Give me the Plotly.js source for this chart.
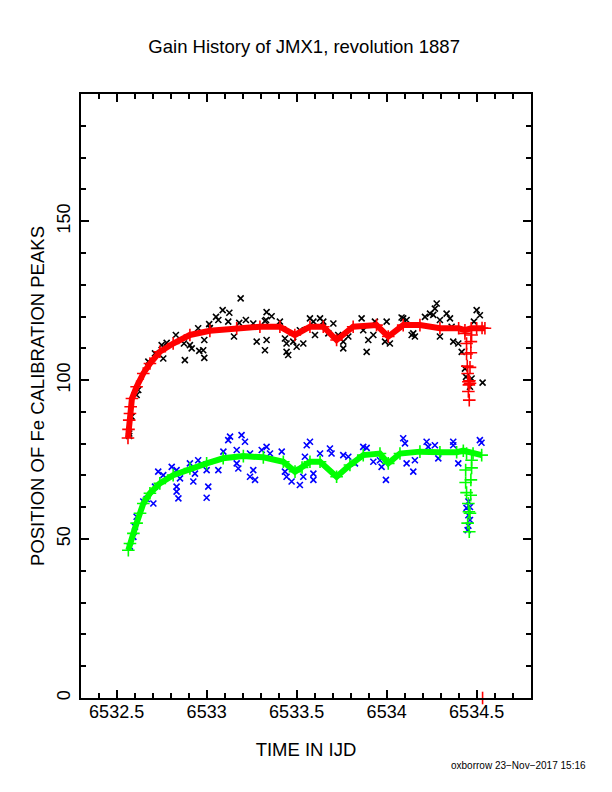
<!DOCTYPE html>
<html>
<head>
<meta charset="utf-8">
<script src="https://cdn.plot.ly/plotly-3.0.1.min.js"></script>
<style>
  html, body { margin: 0; padding: 0; background: #fff; }
  #chart { width: 612px; height: 792px; }
</style>
</head>
<body>
<div id="chart"></div>
<script>
// measured Fe peak positions (black = high peak, blue = low peak)
const highPeakX = [6532.570, 6532.570, 6532.583, 6532.611, 6532.620, 6532.676, 6532.713, 6532.759, 6532.750, 6532.778,
    6532.829, 6532.879, 6532.874, 6532.907, 6532.917, 6532.953, 6532.959, 6532.981, 6532.987, 6532.987,
    6533.014, 6533.018, 6533.052, 6533.065, 6533.089, 6533.126, 6533.120, 6533.152, 6533.181, 6533.189,
    6533.218, 6533.259, 6533.278, 6533.324, 6533.333, 6533.330, 6533.333, 6533.361, 6533.324, 6533.407,
    6533.435, 6533.444, 6533.444, 6533.453, 6533.481, 6533.500, 6533.518, 6533.537, 6533.574, 6533.593,
    6533.602, 6533.630, 6533.648, 6533.676, 6533.704, 6533.731, 6533.759, 6533.759, 6533.787, 6533.861,
    6533.870, 6533.889, 6533.898, 6533.926, 6533.935, 6534.000, 6533.991, 6534.018, 6534.083, 6534.111,
    6534.139, 6534.157, 6534.092, 6534.148, 6534.213, 6534.241, 6534.259, 6534.278, 6534.268, 6534.296,
    6534.296, 6534.333, 6534.352, 6534.370, 6534.398, 6534.417, 6534.435, 6534.441, 6534.472, 6534.463,
    6534.533, 6534.500, 6534.518, 6534.485, 6534.361];
const highPeakY = [83.2, 82.4, 88.5, 95.3, 96.9, 105.8, 108.4, 106.8, 111.0, 111.7,
    114.2, 106.3, 111.5, 111.0, 110.0, 116.3, 109.2, 109.4, 107.0, 112.6,
    117.6, 116.4, 119.9, 118.9, 122.0, 121.2, 118.4, 113.7, 118.0, 125.7,
    118.9, 117.8, 112.1, 109.4, 112.6, 118.9, 121.4, 120.1, 118.6, 118.4,
    113.1, 111.5, 108.9, 107.9, 112.1, 110.5, 115.7, 111.5, 119.4, 118.4,
    114.2, 119.4, 118.4, 114.7, 117.8, 114.2, 112.1, 110.0, 113.7, 119.4,
    115.7, 108.9, 112.6, 114.2, 118.4, 118.4, 112.1, 111.5, 119.7, 118.9,
    114.2, 113.7, 119.4, 114.7, 119.9, 120.9, 120.5, 124.1, 122.5, 118.9,
    113.7, 120.9, 119.4, 112.1, 111.5, 108.9, 103.6, 101.0, 100.5, 97.9,
    99.2, 122.0, 120.4, 118.4, 116.8];

const lowPeakX = [6532.574, 6532.593, 6532.602, 6532.611, 6532.648, 6532.667, 6532.704, 6532.713, 6532.731, 6532.759,
    6532.806, 6532.833, 6532.852, 6532.833, 6532.833, 6532.843, 6532.907, 6532.935, 6532.926, 6532.953,
    6532.972, 6533.000, 6533.009, 6533.000, 6533.065, 6533.093, 6533.120, 6533.130, 6533.167, 6533.167,
    6533.176, 6533.194, 6533.213, 6533.241, 6533.241, 6533.259, 6533.269, 6533.306, 6533.333, 6533.352,
    6533.417, 6533.435, 6533.444, 6533.472, 6533.518, 6533.537, 6533.546, 6533.556, 6533.574, 6533.593,
    6533.593, 6533.630, 6533.685, 6533.694, 6533.759, 6533.787, 6533.824, 6533.870, 6533.889, 6533.926,
    6533.963, 6533.972, 6533.996, 6534.092, 6534.102, 6534.111, 6534.148, 6534.157, 6534.222, 6534.231,
    6534.268, 6534.287, 6534.370, 6534.370, 6534.398, 6534.518, 6534.527, 6534.454, 6534.463, 6534.444,
    6534.454, 6534.463, 6534.454, 6534.450];
const lowPeakY = [47.6, 50.7, 53.9, 57.0, 61.8, 62.6, 61.2, 66.5, 71.2, 70.1,
    72.7, 71.7, 69.1, 66.5, 64.9, 62.8, 73.8, 70.6, 68.1, 74.8,
    73.5, 71.7, 66.5, 63.0, 71.7, 77.5, 81.1, 82.2, 78.0, 73.8,
    72.2, 82.7, 80.6, 76.9, 69.6, 71.7, 68.6, 78.0, 79.0, 76.9,
    77.5, 71.2, 69.6, 68.1, 67.0, 69.6, 75.9, 79.5, 80.6, 70.6,
    68.6, 76.9, 78.5, 76.9, 76.4, 75.9, 73.8, 79.0, 78.7, 74.3,
    74.8, 72.7, 68.6, 81.7, 80.1, 73.8, 71.2, 74.8, 80.6, 79.0,
    79.5, 75.4, 80.6, 79.5, 73.8, 81.1, 80.3, 61.8, 60.1, 59.8,
    57.5, 56.0, 54.2, 52.8];

// fitted gain curves
const highFitX = [6532.563, 6532.566, 6532.570, 6532.574, 6532.578, 6532.585, 6532.611, 6532.648, 6532.685, 6532.740,
    6532.814, 6532.907, 6533.018, 6533.167, 6533.296, 6533.407, 6533.490, 6533.574, 6533.648, 6533.722,
    6533.814, 6533.944, 6534.009, 6534.092, 6534.185, 6534.296, 6534.400, 6534.435, 6534.470, 6534.500,
    6534.530, 6534.546];
const highFitY = [81.8, 84.5, 87.4, 89.5, 91.6, 94.2, 97.9, 102.1, 105.2, 108.9,
    111.5, 114.2, 115.5, 116.3, 116.8, 116.8, 114.2, 116.8, 116.8, 112.6,
    116.8, 117.3, 113.7, 117.3, 117.3, 116.3, 116.3, 115.7, 116.3, 116.3,
    116.4, 116.3];
const highTailX = [6534.435, 6534.472, 6534.444, 6534.468, 6534.444, 6534.468, 6534.448, 6534.463, 6534.450, 6534.454,
    6534.463, 6534.457, 6534.460, 6534.454, 6534.459];
const highTailY = [114.7, 114.2, 111.5, 112.1, 108.2, 108.6, 104.4, 104.0, 102.1, 99.5,
    99.0, 98.5, 99.8, 96.4, 93.7];
// stray fit point sitting on the x axis
const highStrayX = [6534.533];
const highStrayY = [0];

const lowFitX = [6532.565, 6532.574, 6532.593, 6532.611, 6532.630, 6532.648, 6532.685, 6532.740, 6532.814, 6532.907,
    6533.000, 6533.092, 6533.204, 6533.315, 6533.426, 6533.491, 6533.530, 6533.574, 6533.630, 6533.722,
    6533.796, 6533.870, 6533.963, 6534.009, 6534.074, 6534.185, 6534.296, 6534.389, 6534.426, 6534.480,
    6534.528];
const lowFitY = [46.5, 48.6, 51.8, 55.0, 58.1, 61.2, 64.4, 67.5, 70.1, 72.2,
    73.8, 75.4, 76.1, 75.7, 74.3, 71.2, 72.5, 74.3, 74.3, 69.6,
    73.3, 76.4, 76.9, 73.8, 76.9, 77.5, 77.3, 77.3, 77.8, 76.9,
    76.4];
const lowTailX = [6534.444, 6534.472, 6534.439, 6534.472, 6534.439, 6534.468, 6534.444, 6534.467, 6534.454, 6534.457,
    6534.463, 6534.450, 6534.459];
const lowTailY = [76.9, 74.8, 71.7, 72.4, 67.8, 68.6, 64.6, 63.8, 61.2, 58.6,
    58.1, 55.0, 52.3];

const FONT = 'Liberation Sans, Arial, Helvetica, sans-serif';

function pointTrace(x, y, color) {
    return {
        x: x, y: y,
        type: 'scatter',
        mode: 'markers',
        marker: { symbol: 'x-thin', size: 6, line: { color: color, width: 1.6 } },
        hoverinfo: 'x+y',
        showlegend: false
    };
}

function fitTrace(x, y, color) {
    return {
        x: x, y: y,
        type: 'scatter',
        mode: 'lines+markers',
        line: { color: color, width: 6 },
        marker: { symbol: 'cross-thin', size: 9, line: { color: color, width: 1.6 } },
        hoverinfo: 'x+y',
        showlegend: false
    };
}

function tailTrace(x, y, color, symbol) {
    return {
        x: x, y: y,
        type: 'scatter',
        mode: 'markers',
        cliponaxis: false,
        marker: { symbol: symbol || 'cross-thin', size: 9, line: { color: color, width: 1.6 } },
        hoverinfo: 'x+y',
        showlegend: false
    };
}

const traces = [
    pointTrace(highPeakX, highPeakY, '#000000'),
    pointTrace(lowPeakX, lowPeakY, '#0000ff'),
    fitTrace(highFitX, highFitY, '#ff0000'),
    tailTrace(highTailX, highTailY, '#ff0000'),
    tailTrace(highStrayX, highStrayY, '#ff0000', 'line-ns'),
    fitTrace(lowFitX, lowFitY, '#00ff00'),
    tailTrace(lowTailX, lowTailY, '#00ff00')
];

const axisCommon = {
    showline: true,
    linecolor: '#000',
    linewidth: 2,
    mirror: 'ticks',
    ticks: 'inside',
    ticklen: 8,
    tickwidth: 2,
    tickcolor: '#000',
    showgrid: false,
    zeroline: false,
    fixedrange: true,
    layer: 'above traces',
    tickfont: { family: FONT, size: 18, color: '#000' }
};

const layout = {
    width: 612,
    height: 792,
    margin: { l: 81, r: 81, t: 94, b: 94 },
    paper_bgcolor: '#fff',
    plot_bgcolor: '#fff',
    title: {
        text: 'Gain History of JMX1, revolution 1887',
        font: { family: FONT, size: 18.5, color: '#000' },
        x: 0.497, xanchor: 'center',
        y: 0.941, yanchor: 'middle'
    },
    xaxis: Object.assign({}, axisCommon, {
        range: [6532.302, 6534.802],
        tickmode: 'array',
        tickvals: [6532.5, 6533, 6533.5, 6534, 6534.5],
        ticktext: ['6532.5', '6533', '6533.5', '6534', '6534.5'],
        ticklabelstandoff: -4,
        minor: { dtick: 0.1, tick0: 6532.5, ticks: 'inside', ticklen: 5, tickwidth: 2, tickcolor: '#000' },
        title: { text: 'TIME IN IJD', font: { family: FONT, size: 18.5, color: '#000' }, standoff: 22 }
    }),
    yaxis: Object.assign({}, axisCommon, {
        range: [0, 190],
        tickmode: 'array',
        tickvals: [0, 50, 100, 150],
        ticktext: ['0', '50', '100', '150'],
        tickangle: -90,
        ticklabelstandoff: 2,
        minor: { dtick: 10, tick0: 0, ticks: 'inside', ticklen: 5, tickwidth: 2, tickcolor: '#000' },
        title: { text: 'POSITION OF Fe CALIBRATION PEAKS', font: { family: FONT, size: 18.5, color: '#000' }, standoff: 4 }
    }),
    annotations: [{
        text: 'oxborrow 23\u2212Nov\u22122017 15:16',
        xref: 'paper', yref: 'paper',
        x: 1.127, y: -0.111,
        xanchor: 'right', yanchor: 'middle',
        showarrow: false,
        font: { family: FONT, size: 10, color: '#000' }
    }]
};

Plotly.newPlot('chart', traces, layout, { displayModeBar: false, staticPlot: true });
</script>
</body>
</html>
